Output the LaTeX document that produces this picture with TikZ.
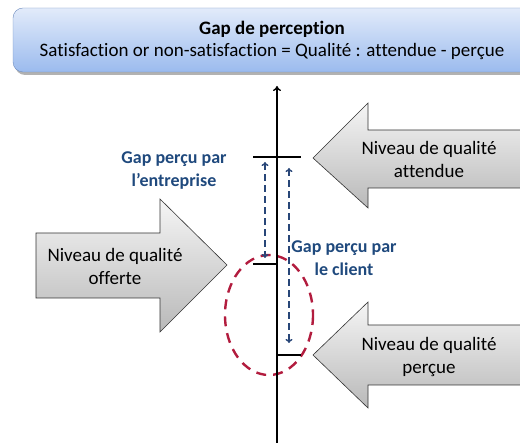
\documentclass[tikz,border=0pt]{standalone}
\usepackage{fontspec}
\setmainfont{Carlito}[Ligatures={NoCommon}]
\usetikzlibrary{arrows.meta}
\definecolor{lblue}{RGB}{31,73,125}
\definecolor{dblue}{RGB}{40,70,120}
\definecolor{ered}{RGB}{178,28,62}
\definecolor{boxtop}{RGB}{226,235,250}
\definecolor{boxbot}{RGB}{155,187,238}
\definecolor{boxline}{RGB}{110,140,190}
\definecolor{agtop}{RGB}{245,245,245}
\definecolor{agbot}{RGB}{185,185,185}
\tikzset{
  titlebox/.style={draw=boxline, top color=boxtop, bottom color=boxbot, rounded corners=10pt,
    minimum width=518pt, minimum height=64pt, align=center, inner sep=0pt,
    font=\fontsize{19}{22}\selectfont},
  bigarrow/.style={draw=black!80, line width=0.6pt, top color=agtop, bottom color=agbot},
  arrowtext/.style={align=center, font=\fontsize{19}{23}\selectfont, inner sep=0pt},
  gaplabel/.style={align=center, text=lblue, font=\bfseries\fontsize{18}{23}\selectfont, inner sep=0pt},
  axisline/.style={line width=1.4pt, -{To[length=5pt,width=8pt]}},
  tick/.style={line width=1.4pt},
  gaparrow/.style={dblue, line width=1.4pt, dash pattern=on 7pt off 4pt,
    {To[length=4pt,width=7pt]}-{To[length=4pt,width=7pt]}},
  ellipsedash/.style={ered, line width=2.4pt, dash pattern=on 10pt off 7pt}
}
\begin{document}
\begin{tikzpicture}[x=1pt,y=-1pt]
\useasboundingbox (0,0) rectangle (520,443);
% title box
\fill[black!30, rounded corners=10pt] (15,11) rectangle (535,75);
\node[titlebox] (title) at (272,40) {\textbf{Gap de perception}\\Satisfaction or non-satisfaction = Qualité : attendue - perçue};
% big arrows
\shade[bigarrow] (313,158) -- (368,103) -- (368,130) -- (530,130) -- (530,188) -- (368,188) -- (368,208) -- cycle;
\node[arrowtext] (attendue) at (429,159) {Niveau de qualité\\attendue};
\shade[bigarrow] (36,233) -- (160,233) -- (160,199) -- (227,265) -- (160,332) -- (160,298) -- (36,298) -- cycle;
\node[arrowtext] (offerte) at (115,266) {Niveau de qualité\\offerte};
\shade[bigarrow] (313,355) -- (368,302) -- (368,325) -- (530,325) -- (530,385) -- (368,385) -- (368,408) -- cycle;
\node[arrowtext] (percue) at (429,357) {Niveau de qualité\\perçue};
% ellipse
\draw[ellipsedash] (269,315) ellipse [x radius=44, y radius=60];
% axis
\coordinate (axbot) at (277,445);
\coordinate (axtop) at (277,86);
\draw[axisline] (axbot) -- (axtop);
% ticks
\coordinate (t1a) at (253,157); \coordinate (t1b) at (301,157);
\coordinate (t2a) at (253,264); \coordinate (t2b) at (277,264);
\coordinate (t3a) at (277,355); \coordinate (t3b) at (301,355);
\draw[tick] (t1a) -- (t1b);
\draw[tick] (t2a) -- (t2b);
\draw[tick] (t3a) -- (t3b);
% gap arrows
\coordinate (g1a) at (265,162); \coordinate (g1b) at (265,258);
\coordinate (g2a) at (289,168); \coordinate (g2b) at (289,343);
\draw[gaparrow] (g1a) -- (g1b);
\draw[gaparrow] (g2a) -- (g2b);
% labels
\node[gaplabel] (entreprise) at (174,171) {Gap perçu par\\l’entreprise};
\node[gaplabel] (client) at (344,258) {Gap perçu par\\le client};
\end{tikzpicture}
\end{document}
